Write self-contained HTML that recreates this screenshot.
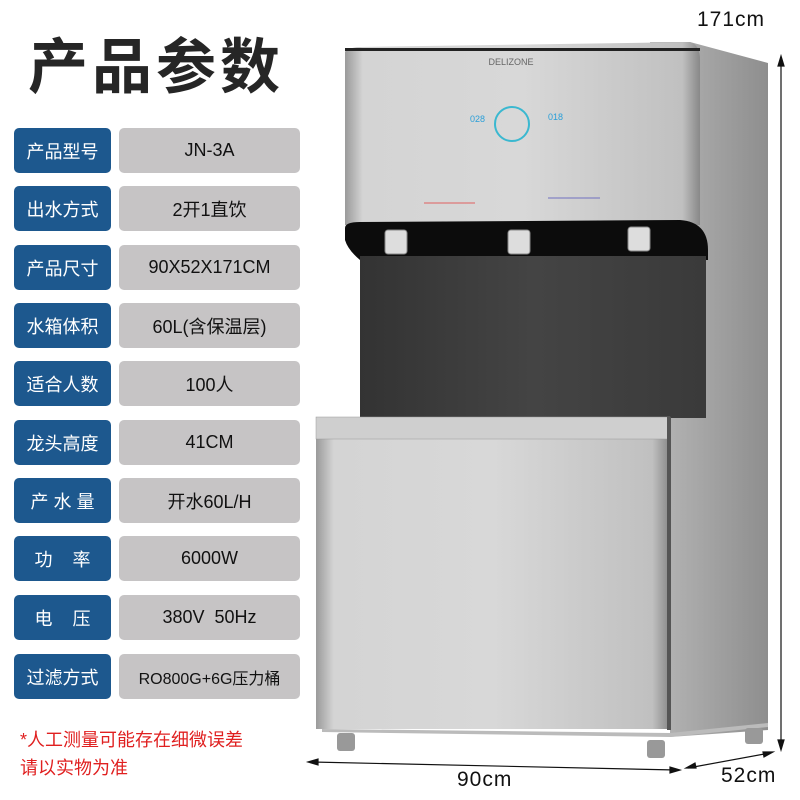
<!DOCTYPE html>
<html><head><meta charset="utf-8"><style>
body{margin:0;width:800px;height:800px;background:#fff;position:relative;overflow:hidden;font-family:"Liberation Sans","Noto Sans CJK SC",sans-serif}
.t{position:absolute;left:28px;top:30px;font-size:60px;font-weight:bold;color:#262626;letter-spacing:4px;line-height:76px}
.l,.v{position:absolute;height:45px;border-radius:5px;display:flex;align-items:center;justify-content:center;font-size:18px}
.l{left:14px;width:97px;background:#1d588e;color:#fff}
.v{left:119px;width:181px;background:#c6c4c5;color:#111}
.n{position:absolute;left:20px;top:726px;font-size:18px;color:#e02020;line-height:28px}
.d{position:absolute;font-size:21px;color:#111;letter-spacing:1px}
</style></head><body>
<div class="t">产品参数</div>
<div class="l" style="top:128px">产品型号</div><div class="v" style="top:128px">JN-3A</div>
<div class="l" style="top:186px">出水方式</div><div class="v" style="top:186px">2开1直饮</div>
<div class="l" style="top:245px">产品尺寸</div><div class="v" style="top:245px">90X52X171CM</div>
<div class="l" style="top:303px">水箱体积</div><div class="v" style="top:303px">60L(含保温层)</div>
<div class="l" style="top:361px">适合人数</div><div class="v" style="top:361px">100人</div>
<div class="l" style="top:420px">龙头高度</div><div class="v" style="top:420px">41CM</div>
<div class="l" style="top:478px">产 水 量</div><div class="v" style="top:478px">开水60L/H</div>
<div class="l" style="top:536px">功&nbsp;&nbsp;&nbsp;&nbsp;率</div><div class="v" style="top:536px">6000W</div>
<div class="l" style="top:595px">电&nbsp;&nbsp;&nbsp;&nbsp;压</div><div class="v" style="top:595px">380V&nbsp; 50Hz</div>
<div class="l" style="top:654px">过滤方式</div><div class="v" style="top:654px;font-size:16px">RO800G+6G压力桶</div>
<div class="n">*人工测量可能存在细微误差<br>请以实物为准</div>
<svg style="position:absolute;left:0;top:0" width="800" height="800">
<defs>
<linearGradient id="s" x1="0" x2="1"><stop offset="0" stop-color="#9a9a9a"/><stop offset=".05" stop-color="#d4d4d4"/><stop offset=".5" stop-color="#d8d8d8"/><stop offset=".95" stop-color="#c0c0c0"/><stop offset="1" stop-color="#888"/></linearGradient>
<linearGradient id="sd" x1="0" x2="1"><stop offset="0" stop-color="#b8b8b8"/><stop offset="1" stop-color="#8e8e8e"/></linearGradient>
<linearGradient id="dk" x1="0" x2="1"><stop offset="0" stop-color="#333"/><stop offset=".5" stop-color="#444"/><stop offset="1" stop-color="#3a3a3a"/></linearGradient>
</defs>
<path d="M650 42 L690 42 L768 63 L768 730 L670 737 L670 415 L706 415 L706 240 L650 225Z" fill="url(#sd)"/>
<path d="M345 52 Q346 48 360 47 L690 42 Q700 45 700 60 L700 225 L345 225Z" fill="url(#s)"/>
<rect x="345" y="48" width="355" height="3" fill="#222"/>
<path d="M345 228 Q345 222 360 222 L680 220 Q708 222 708 250 L708 260 L360 260 Q348 250 345 240Z" fill="#0c0c0c"/>
<rect x="360" y="256" width="346" height="162" fill="url(#dk)"/>
<rect x="385" y="230" width="22" height="24" rx="3" fill="#ddd" stroke="#888"/>
<rect x="508" y="230" width="22" height="24" rx="3" fill="#ddd" stroke="#888"/>
<rect x="628" y="227" width="22" height="24" rx="3" fill="#ddd" stroke="#888"/>
<text x="511" y="65" font-size="9" fill="#666" text-anchor="middle" font-family="Liberation Sans">DELIZONE</text>
<circle cx="512" cy="124" r="17" fill="none" stroke="#3ab8d0" stroke-width="2"/>
<text x="470" y="122" font-size="9" fill="#2a9fd8">028</text>
<text x="548" y="120" font-size="9" fill="#2a9fd8">018</text>
<line x1="424" y1="203" x2="475" y2="203" stroke="#e06060"/>
<line x1="548" y1="198" x2="600" y2="198" stroke="#7070c0"/>
<rect x="316" y="417" width="354" height="312" fill="url(#s)"/>
<rect x="316" y="417" width="354" height="22" fill="#cfcfcf" stroke="#999" stroke-width=".5"/>
<rect x="667" y="417" width="4" height="313" fill="#555"/>
<path d="M322 729 L670 733 L768 723 L768 727 L670 737 L322 732Z" fill="#bbb"/>
<rect x="337" y="733" width="18" height="18" rx="3" fill="#999"/>
<rect x="647" y="740" width="18" height="18" rx="3" fill="#999"/>
<rect x="745" y="728" width="18" height="16" rx="3" fill="#999"/>
<g stroke="#111" stroke-width="1.2" fill="#111">
<line x1="781" y1="62" x2="781" y2="745"/>
<path d="M781 56 l-3 10 h6z M781 750 l-3 -10 h6z"/>
<line x1="312" y1="762" x2="676" y2="770"/>
<path d="M308 762 l10 -3 v6z M680 770 l-10 3 v-6z"/>
<line x1="688" y1="768" x2="770" y2="753"/>
<path d="M686 768 l9 -5 l1 5z M773 752 l-9 5 l-1 -5z"/>
</g>
</svg>
<div class="d" style="left:697px;top:8px">171cm</div>
<div class="d" style="left:457px;top:768px">90cm</div>
<div class="d" style="left:721px;top:764px">52cm</div>
</body></html>
